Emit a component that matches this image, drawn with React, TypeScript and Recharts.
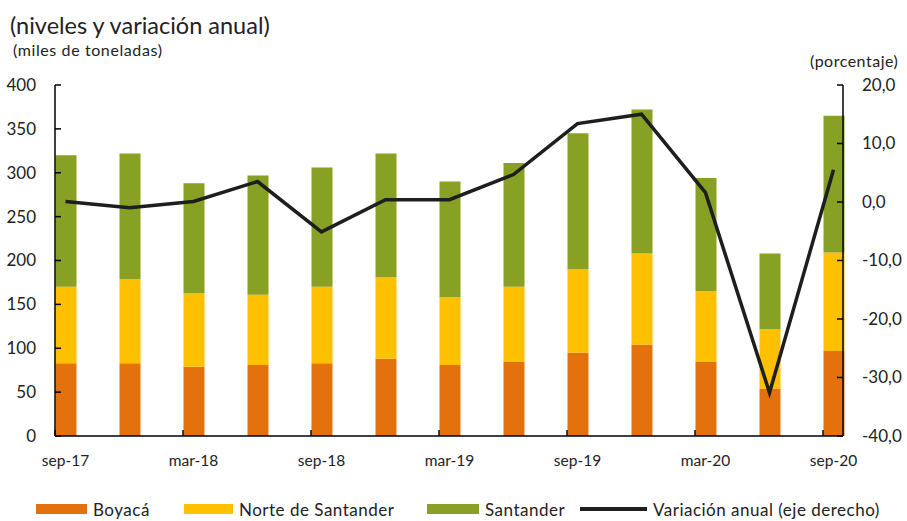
import { ComposedChart, Bar, Line, XAxis, YAxis } from "recharts";

const categories = ["sep-17", "dic-17", "mar-18", "jun-18", "sep-18", "dic-18", "mar-19", "jun-19", "sep-19", "dic-19", "mar-20", "jun-20", "sep-20"];
const boyaca = [83, 83, 79, 81, 83, 88, 81, 85, 95, 104, 85, 54, 97];
const norte = [87, 96, 84, 80, 87, 93, 77, 85, 95, 104, 80, 68, 112];
const santander = [150, 143, 125, 136, 136, 141, 132, 141, 155, 164, 129, 86, 156];
const variacion = [0.1, -1.0, 0.1, 3.5, -5.1, 0.4, 0.4, 4.7, 13.4, 15.0, 1.6, -32.6, 5.5];
const leftTicks = [0, 50, 100, 150, 200, 250, 300, 350, 400];
const rightTicks = [-40, -30, -20, -10, 0, 10, 20];

const data = categories.map((c, i) => ({
  name: c,
  boyaca: boyaca[i],
  norte: norte[i],
  santander: santander[i],
  variacion: variacion[i],
}));

const FONT = "Lato, 'Open Sans', sans-serif";
const TXT = "#222";

const XTick = ({ x, y, payload }: any) => (
  <g>
    <line x1={x - 10.5} x2={x - 10.5} y1={y - 19} y2={y - 25} stroke="#000" strokeWidth={1.5} />
    <text x={x} y={y} dy="0.71em" textAnchor="middle" fontSize={15.5} fill={TXT} fontFamily={FONT}>
      {payload.value}
    </text>
  </g>
);

const LeftTick = ({ x, y, payload }: any) => (
  <g>
    <line x1={x + 19} x2={x + 25} y1={y} y2={y} stroke="#000" strokeWidth={1.5} />
    <text x={x} y={y} dy="0.35em" textAnchor="end" fontSize={17} fill={TXT} fontFamily={FONT}>
      {payload.value}
    </text>
  </g>
);

const RightTick = ({ x, y, payload }: any) => (
  <g>
    <line x1={x - 19} x2={x - 25} y1={y} y2={y} stroke="#000" strokeWidth={1.5} />
    <text x={x} y={y} dy="0.35em" textAnchor="start" fontSize={17} fill={TXT} fontFamily={FONT}>
      {Number(payload.value).toFixed(1).replace(".", ",")}
    </text>
  </g>
);

const legendItems = [
  { label: "Boyacá", color: "#E3720D", left: 36, w: 51, line: false },
  { label: "Norte de Santander", color: "#FFC000", left: 184, w: 49, line: false },
  { label: "Santander", color: "#88A024", left: 427, w: 52, line: false },
  { label: "Variación anual (eje derecho)", color: "#1e1e1e", left: 580, w: 67, line: true },
];

export default function App() {
  return (
    <div style={{ position: "absolute", left: 0, top: 0, width: 907, height: 521, fontFamily: FONT, color: TXT }}>
      <div style={{ position: "absolute", left: 10, top: 11, fontSize: 23.5 }}>(niveles y variación anual)</div>
      <div style={{ position: "absolute", left: 13, top: 40, fontSize: 16, letterSpacing: 0.6 }}>(miles de toneladas)</div>
      <div style={{ position: "absolute", left: 810, top: 51, fontSize: 16, letterSpacing: 0.5 }}>(porcentaje)</div>
      <ComposedChart width={907} height={521} data={data} margin={{ top: 85, right: 0, bottom: 0, left: 0 }}>
        <XAxis
          dataKey="name"
          height={85}
          interval={1}
          tickSize={0}
          tickMargin={19}
          tickLine={false}
          tick={<XTick />}
          padding={{ left: -21.5, right: -22.5 }}
          axisLine={{ stroke: "#000", strokeWidth: 1.5 }}
        />
        <YAxis
          yAxisId="left"
          width={55}
          domain={[0, 400]}
          ticks={leftTicks}
          tickSize={0}
          tickMargin={19}
          tickLine={false}
          tick={<LeftTick />}
          axisLine={{ stroke: "#000", strokeWidth: 1.5 }}
        />
        <YAxis
          yAxisId="right"
          orientation="right"
          width={64}
          domain={[-40, 20]}
          ticks={rightTicks}
          tickSize={0}
          tickMargin={19}
          tickLine={false}
          tick={<RightTick />}
          axisLine={{ stroke: "#000", strokeWidth: 1.5 }}
        />
        <Bar yAxisId="left" dataKey="boyaca" stackId="a" fill="#E3720D" barSize={21} isAnimationActive={false} />
        <Bar yAxisId="left" dataKey="norte" stackId="a" fill="#FFC000" barSize={21} isAnimationActive={false} />
        <Bar yAxisId="left" dataKey="santander" stackId="a" fill="#88A024" barSize={21} isAnimationActive={false} />
        <Line
          yAxisId="right"
          dataKey="variacion"
          stroke="#1e1e1e"
          strokeWidth={3.5}
          dot={false}
          type="linear"
          isAnimationActive={false}
        />
      </ComposedChart>
      {legendItems.map((it) => (
        <div
          key={it.label}
          style={{
            position: "absolute",
            left: it.left,
            top: 498,
            height: 22,
            display: "flex",
            alignItems: "center",
            fontSize: 17,
            letterSpacing: 0.5,
          }}
        >
          <span
            style={{
              display: "inline-block",
              width: it.w,
              height: it.line ? 4 : 10,
              background: it.color,
              marginRight: 6,
            }}
          />
          <span>{it.label}</span>
        </div>
      ))}
    </div>
  );
}
